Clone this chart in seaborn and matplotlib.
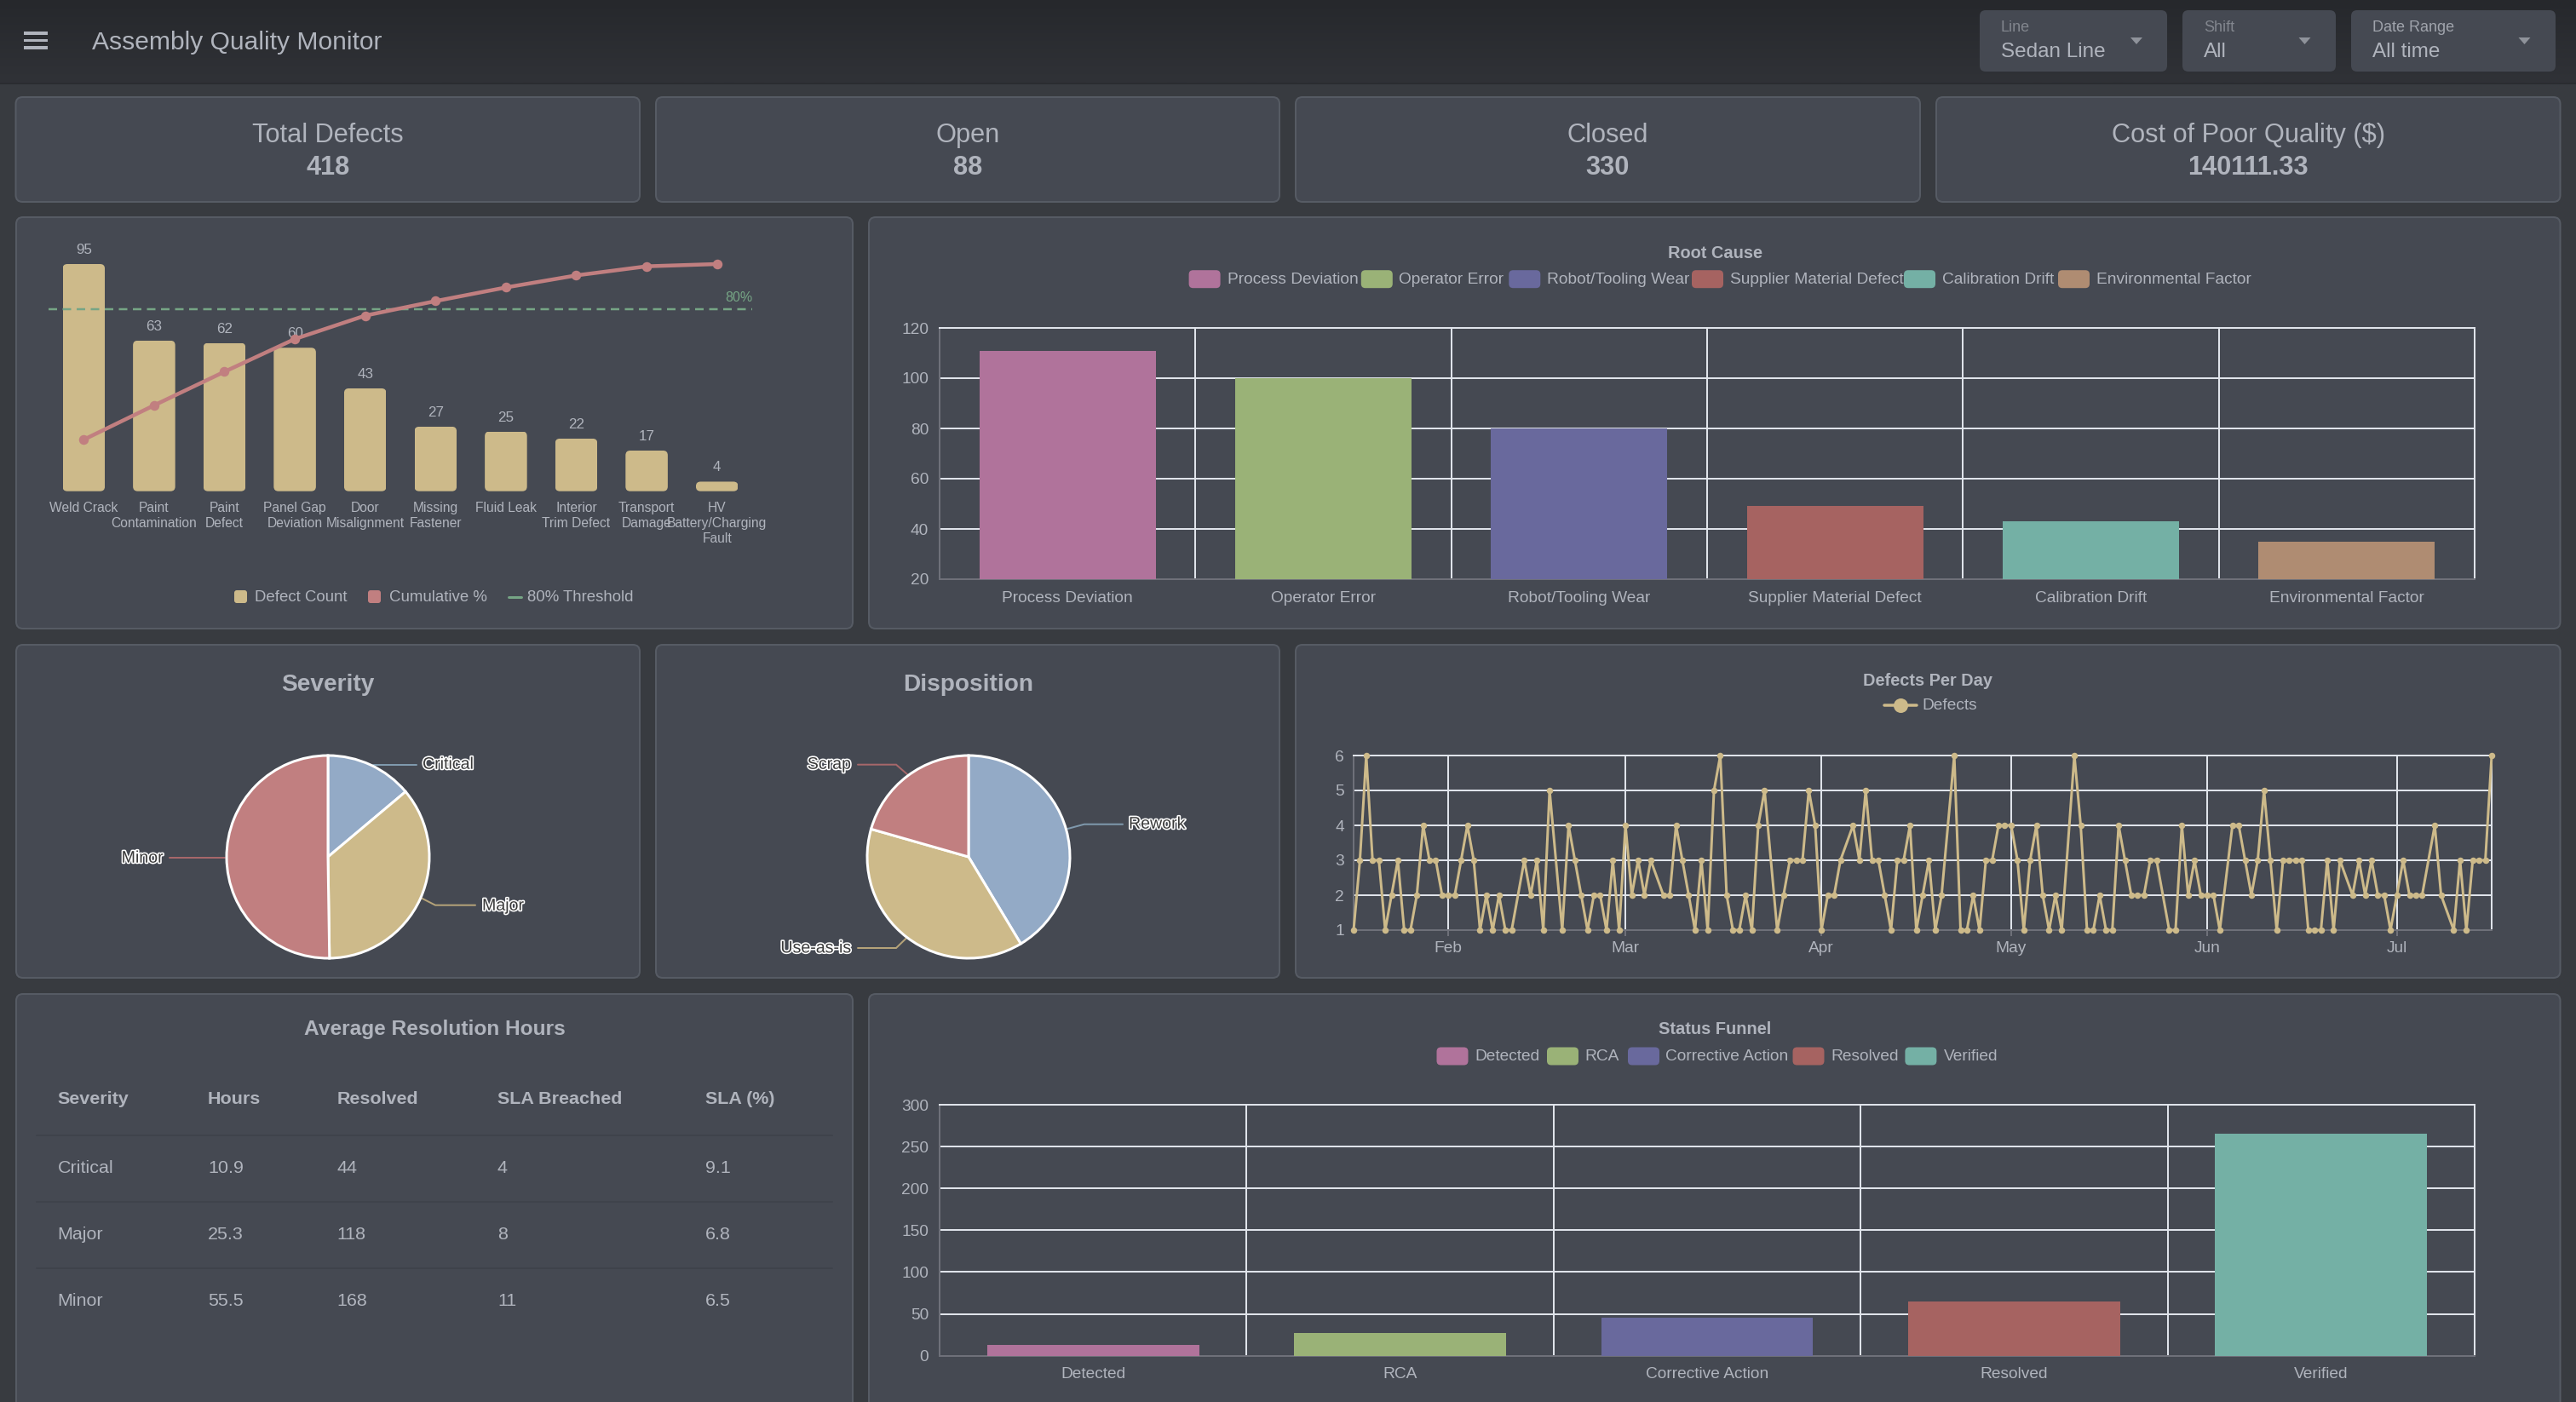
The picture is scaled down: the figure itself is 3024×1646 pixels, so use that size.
import numpy as np
import pandas as pd
import matplotlib
matplotlib.use("Agg")
import matplotlib.pyplot as plt
import matplotlib.dates as mdates
import matplotlib.patheffects as pe
from matplotlib.patches import FancyBboxPatch, Polygon, Rectangle
from matplotlib.transforms import IdentityTransform
import seaborn as sns

# ---------------- data ----------------
kpi_titles = ["Total Defects", "Open", "Closed", "Cost of Poor Quality ($)"]
kpi_values = ["418", "88", "330", "140111.33"]

pareto_cats = ["Weld Crack", "Paint\nContamination", "Paint\nDefect", "Panel Gap\nDeviation",
               "Door\nMisalignment", "Missing\nFastener", "Fluid Leak", "Interior\nTrim Defect",
               "Transport\nDamage", "HV\nBattery/Charging\nFault"]
pareto_counts = [95, 63, 62, 60, 43, 27, 25, 22, 17, 4]
pareto_cum = [22.7, 37.8, 52.6, 67.0, 77.3, 83.7, 89.7, 95.0, 99.0, 100.0]
threshold = 80

root_cats = ["Process Deviation", "Operator Error", "Robot/Tooling Wear",
             "Supplier Material Defect", "Calibration Drift", "Environmental Factor"]
root_vals = [111, 100, 80, 49, 43, 35]

funnel_cats = ["Detected", "RCA", "Corrective Action", "Resolved", "Verified"]
funnel_vals = [13, 27, 45, 65, 265]

severity_labels = ["Critical", "Major", "Minor"]
severity_vals = [58, 150, 210]
disp_labels = ["Rework", "Use-as-is", "Scrap"]
disp_vals = [173, 159, 86]

# one value per day from 17 Jan; None = no defects recorded that day
daily_start = "2025-01-17"
daily_vals = [1, 3, 6, 3, 3, 1, 2, 3, 1, 1, 2, 4, 3, 3, 2, 2, 2, 3, 4, 3,
              1, 2, 1, 2, 1, 1, None, 3, 2, 3, 1, 5, None, 1, 4, 3, 2, 1, 2, 2,
              1, 3, 1, 4, 2, 3, 2, 3, None, 2, 2, 4, 3, 2, 1, 3, 1, 5, 6, 2,
              1, 1, 2, 1, 4, 5, None, 1, 2, 3, 3, 3, 5, 4, 1, 2, 2, 3, None, 4,
              3, 5, 3, 3, 2, 1, 3, 3, 4, 1, 2, 3, 1, 2, None, 6, 1, 1, 2, 1,
              3, 3, 4, 4, 4, 3, 1, 3, 4, 2, 1, 2, 1, None, 6, 4, 1, 1, 2, 1,
              1, 4, 3, 2, 2, 2, 3, 3, None, 1, 1, 4, 2, 3, 2, 2, 2, 1, None, 4,
              4, 3, 2, 3, 5, 3, 1, 3, 3, 3, 3, 1, 1, 1, 3, 1, 3, None, 2, 3,
              2, 3, 2, 2, 1, 2, 3, 2, 2, 2, None, 4, 2, None, 1, 3, 1, 3, 3, 3, 6]

table_cols = ["Severity", "Hours", "Resolved", "SLA Breached", "SLA (%)"]
table_severity = ["Critical", "Major", "Minor"]
table_hours = ["10.9", "25.3", "55.5"]
table_resolved = ["44", "118", "168"]
table_breached = ["4", "8", "11"]
table_sla = ["9.1", "6.8", "6.5"]

filter_labels = ["Line", "Shift", "Date Range"]
filter_values = ["Sedan Line", "All", "All time"]

# ---------------- style ----------------
W, H = 3024, 1646
C_BG, C_PANEL, C_BORDER = "#383b40", "#454952", "#565b64"
C_TEXT, C_GRID, C_AXIS = "#b0b4bd", "#dfe3ea", "#6e7079"
C_TAN, C_RED, C_BLUE, C_GREEN = "#cdba8a", "#c17f80", "#93aac6", "#76a585"
PALETTE = ["#b0739b", "#9ab277", "#69699d", "#a66361", "#74b0a5", "#af8c72"]
PX = 72 / 200  # points per device pixel
TICK_PX = 19.2

sns.set_theme(style="dark")
plt.rcParams["font.family"] = ["Liberation Sans", "DejaVu Sans"]

fig = plt.figure(figsize=(W / 200, H / 200), dpi=200, facecolor=C_BG)
bg = fig.add_axes([0, 0, 1, 1], zorder=0)
bg.set_axis_off()

grad = np.linspace(0, 1, 97)[:, None, None] * (np.array([0x30, 0x32, 0x37]) - np.array([0x26, 0x28, 0x2c])) + np.array([0x26, 0x28, 0x2c])
bg.imshow(grad / 255.0, extent=[0, W, 97, 0], aspect="auto", zorder=0)
bg.set_xlim(0, W)
bg.set_ylim(H, 0)


def rrect(l, t, r, b, fc=C_PANEL, ec=C_BORDER, rad=8, lw=2, z=1):
    bg.add_patch(FancyBboxPatch((l + rad, t + rad), r - l - 2 * rad, b - t - 2 * rad,
                                boxstyle=f"round,pad={rad},rounding_size={rad}",
                                fc=fc, ec=ec, lw=lw * PX, zorder=z))


def T(x, y, s, px=20, ha="center", bold=False, color=C_TEXT, **kw):
    return bg.text(x, y + px * 0.06, s, fontsize=px * PX, ha=ha, va="center",
                   fontweight="bold" if bold else "normal", color=color, zorder=5, **kw)


def axes_px(l, t, r, b):
    ax = fig.add_axes([l / W, 1 - b / H, (r - l) / W, (b - t) / H], zorder=2)
    ax.set_facecolor("none")
    return ax


# ---------------- header ----------------
bg.plot([0, W], [97.5, 97.5], color="#2a2c30", lw=2 * PX, zorder=2)
for yy in (39, 47.5, 56):
    bg.add_patch(Rectangle((28, yy - 1.7), 28, 3.4, fc=C_TEXT, ec="none", zorder=3))
T(108, 48, "Assembly Quality Monitor", 30, ha="left")

fbox = [(2324, 2544, 2508), (2562, 2742, 2705.5), (2760, 3000, 2963.5)]
label_cols = ["#82868e", "#82868e", "#a0a4ac"]
for (l, r, ax_x), lab, val, lc in zip(fbox, filter_labels, filter_values, label_cols):
    rrect(l, 12, r, 84, fc=C_PANEL, ec="none", rad=7, lw=0, z=2)
    T(l + 25, 31, lab, 18, ha="left", color=lc)
    T(l + 25, 60, val, 24.3, ha="left")
    bg.add_patch(Polygon([[ax_x - 7, 44], [ax_x + 7, 44], [ax_x, 52]], fc="#8f939b", ec="none", zorder=4))

# ---------------- KPI cards ----------------
card_x = [(18.5, 751), (770, 1502), (1521, 2254), (2273, 3005.5)]
for (l, r), tt, vv in zip(card_x, kpi_titles, kpi_values):
    rrect(l, 114, r, 237)
    T((l + r) / 2, 157, tt, 30.8)
    T((l + r) / 2, 195, vv, 30.8, bold=True)

# ---------------- panels ----------------
rrect(19, 255, 1001, 738)
rrect(1020, 255, 3005.5, 738)
rrect(19, 757, 751, 1148)
rrect(770, 757, 1502, 1148)
rrect(1521, 757, 3005.5, 1148)
rrect(19, 1167, 1001, 1680)
rrect(1020, 1167, 3005.5, 1680)

# ---------------- pareto ----------------
base, top_95, extra_top = 576.7, 310.0, 270.0
ax = axes_px(57, extra_top, 883, base)
ax2 = ax.twinx()
ax2.set_position(ax.get_position())
ax2.set_zorder(3)
ax2.set_facecolor("none")
scale = (base - extra_top) / (base - top_95)
sns.barplot(x=list(range(len(pareto_counts))), y=pareto_counts, color=C_TAN, saturation=1,
            width=0.6, linewidth=0, edgecolor="none", ax=ax)
ax.set_xlim(-0.5, 9.5)
ax.set_ylim(0, 95 * scale)
ax2.set_ylim(0, 100 * scale)
ax.set_xticks(range(10), pareto_cats, fontsize=15.7 * PX, color=C_TEXT, linespacing=1.27)
ax.tick_params(axis="x", length=0, pad=12 * PX)
ax.set_yticks([])
ax.set_xlabel("")
ax.set_ylabel("")
ax.grid(False)
ax.bar_label(ax.containers[0], fontsize=17 * PX, color=C_TEXT, padding=9 * PX)
for s in ax.spines.values():
    s.set_visible(False)
for s in ax2.spines.values():
    s.set_visible(False)
ax2.set_yticks([])
ax2.grid(False)
fig.canvas.draw()
for bar in ax.patches:
    (x0, y0), (x1, y1) = ax.transData.transform([(bar.get_x(), 0), (bar.get_x() + bar.get_width(), bar.get_height())])
    rad = 5.5
    clip = FancyBboxPatch((x0 + rad, y0 + rad), x1 - x0 - 2 * rad, y1 - y0 - 2 * rad,
                          boxstyle=f"round,pad={rad},rounding_size={rad}", transform=IdentityTransform())
    bar.set_clip_path(clip)
ax2.axhline(threshold, color=C_GREEN, lw=2.5 * PX, ls=(0, (4, 2.6)), zorder=2)
sns.lineplot(x=list(range(10)), y=pareto_cum, color=C_RED, lw=4.5 * PX, marker="o", ms=11.5 * PX,
             mec=C_RED, mew=0, ax=ax2, errorbar=None, zorder=3)
ax2.lines[-1].set_clip_on(False)
ax2.set_xlabel("")
ax2.set_ylabel("")
T(883, 349, "80%", 16, ha="right", color=C_GREEN)

rrect(275, 693, 290, 708, fc=C_TAN, ec="none", rad=3, lw=0, z=4)
T(298.6, 700, "Defect Count", 18.7, ha="left")
rrect(432, 693, 447, 708, fc=C_RED, ec="none", rad=3, lw=0, z=4)
T(457, 700, "Cumulative %", 18.7, ha="left")
bg.plot([596.6, 611.6], [701, 701], color=C_GREEN, lw=3 * PX, zorder=4)
T(619.4, 700, "80% Threshold", 18.7, ha="left")


# ---------------- category bars ----------------
def cat_bars(ax, cats, vals, ylim, yticks, xpad):
    sns.barplot(x=cats, y=vals, hue=cats, palette=PALETTE[:len(cats)], saturation=1,
                width=0.69, dodge=False, legend=False, linewidth=0, edgecolor="none", ax=ax)
    n = len(cats)
    ax.set_xlim(-0.5, n - 0.5)
    ax.set_ylim(*ylim)
    ax.set_yticks(yticks)
    ax.set_xticks(range(n), cats)
    ax.set_xticks(np.arange(0.5, n - 0.5, 1.0), minor=True)
    ax.tick_params(axis="x", which="major", length=0, labelsize=TICK_PX * PX, labelcolor=C_TEXT, pad=xpad * PX)
    ax.tick_params(axis="x", which="minor", length=0)
    ax.tick_params(axis="y", length=0, labelsize=TICK_PX * PX, labelcolor=C_TEXT, pad=13 * PX)
    ax.set_axisbelow(True)
    ax.grid(False)
    ax.grid(axis="y", which="major", color=C_GRID, lw=2 * PX)
    ax.grid(axis="x", which="minor", color=C_GRID, lw=2 * PX)
    ax.set_xlabel("")
    ax.set_ylabel("")
    for k, c in (("top", C_GRID), ("right", C_GRID), ("left", C_AXIS), ("bottom", C_AXIS)):
        ax.spines[k].set_visible(True)
        ax.spines[k].set_color(c)
        ax.spines[k].set_linewidth(2 * PX)
        ax.spines[k].set_zorder(0.9)


def swatch_legend(y, swatches, names, texts):
    for i, (sx, name, tx) in enumerate(zip(swatches, names, texts)):
        rrect(sx, y - 10.5, sx + 37, y + 10.5, fc=PALETTE[i], ec="none", rad=5, lw=0, z=4)
        T(tx, y - 0.5, name, TICK_PX, ha="left")


ax = axes_px(1103, 385, 2905, 680)
cat_bars(ax, root_cats, root_vals, (20, 120), [20, 40, 60, 80, 100, 120], 14)
T(2013, 296, "Root Cause", 20, bold=True)
swatch_legend(327.7, [1395.6, 1597.8, 1771.3, 1986, 2235, 2416], root_cats,
              [1441, 1641.8, 1816, 2030.7, 2279.6, 2461])

ax = axes_px(1103, 1297, 2905, 1591.6)
cat_bars(ax, funnel_cats, funnel_vals, (0, 300), [0, 50, 100, 150, 200, 250, 300], 13)
T(2013, 1207.5, "Status Funnel", 20, bold=True)
swatch_legend(1240, [1686.5, 1816, 1911, 2104.5, 2236.4], funnel_cats,
              [1731, 1860.5, 1955, 2149.6, 2281.5])


# ---------------- pies ----------------
def pie(cx, vals, title):
    cy, r, t, b = 1006, 119, 884, 1122
    ax = axes_px(cx - 124, t, cx + 124, b)
    ax.pie(vals, colors=[C_BLUE, C_TAN, C_RED], startangle=90, counterclock=False, radius=1,
           wedgeprops={"edgecolor": "white", "linewidth": 3 * PX})
    ax.set_aspect("auto")
    ax.set_xlim(-124 / r, 124 / r)
    ax.set_ylim(-(b - cy) / r, (cy - t) / r)
    T(cx, 802.7, title, 28, bold=True)


def pie_label(x, y, s, ha, line, color):
    t = T(x, y - 1, s, 19.6, ha=ha, color="#3a3a3a")
    t.set_path_effects([pe.withStroke(linewidth=3.2 * PX, foreground="white")])
    xs, ys = zip(*line)
    bg.plot(xs, ys, color=color, lw=2 * PX, zorder=4, solid_joinstyle="miter")


L_BLUE, L_TAN, L_RED = "#7f99ad", "#b5a379", "#a6676a"
pie(385, severity_vals, "Severity")
pie_label(496, 897, severity_labels[0], "left", [(438, 897.7), (489, 897.7)], L_BLUE)
pie_label(566, 1063, severity_labels[1], "left", [(494, 1054), (511, 1062.7), (558, 1062.7)], L_TAN)
pie_label(192, 1007, severity_labels[2], "right", [(199, 1007), (264, 1007)], L_RED)
pie(1137, disp_vals, "Disposition")
pie_label(1325, 967, disp_labels[0], "left", [(1253.4, 973), (1272.8, 967.7), (1318, 967.7)], L_BLUE)
pie_label(999.4, 1112.7, disp_labels[1], "right", [(1064.4, 1101), (1052, 1113), (1007, 1113)], L_TAN)
pie_label(999.4, 897, disp_labels[2], "right", [(1065, 909), (1052, 897.7), (1007, 897.7)], L_RED)

# ---------------- daily line ----------------
daily = pd.DataFrame({"date": pd.date_range(daily_start, periods=len(daily_vals), freq="D"),
                      "defects": daily_vals}).dropna()
ax = axes_px(1589, 887, 2925, 1092)
sns.lineplot(data=daily, x="date", y="defects", color=C_TAN, lw=3 * PX, marker="o", ms=7.5 * PX,
             mew=0, mec=C_TAN, errorbar=None, ax=ax, zorder=3)
ax.lines[0].set_clip_on(False)
ax.set_xlim(pd.Timestamp(daily_start), pd.Timestamp(daily_start) + pd.Timedelta(days=len(daily_vals) - 1))
ax.set_ylim(1, 6)
ax.set_yticks(range(1, 7))
ax.xaxis.set_major_locator(mdates.MonthLocator())
ax.xaxis.set_major_formatter(mdates.DateFormatter("%b"))
ax.tick_params(axis="x", length=7 * PX, width=2 * PX, color=C_AXIS, labelsize=TICK_PX * PX,
               labelcolor=C_TEXT, pad=6 * PX, bottom=True)
ax.tick_params(axis="y", length=0, labelsize=TICK_PX * PX, labelcolor=C_TEXT, pad=11 * PX)
ax.set_axisbelow(True)
ax.grid(False)
ax.grid(axis="both", color=C_GRID, lw=2 * PX)
ax.set_xlabel("")
ax.set_ylabel("")
for k, c in (("top", C_GRID), ("right", C_GRID), ("left", C_AXIS), ("bottom", C_AXIS)):
    ax.spines[k].set_visible(True)
    ax.spines[k].set_color(c)
    ax.spines[k].set_linewidth(2 * PX)
T(2263, 798, "Defects Per Day", 20, bold=True)
bg.plot([2211.5, 2250], [828, 828], color=C_TAN, lw=3.5 * PX, zorder=4)
bg.plot([2230.5], [828], "o", color=C_TAN, ms=17 * PX, mew=0, zorder=4)
T(2256, 827.5, "Defects", TICK_PX, ha="left")

# ---------------- table ----------------
T(510, 1207.5, "Average Resolution Hours", 24.5, bold=True)
col_x = [67.7, 244, 395.6, 584, 827.6]
for x, c in zip(col_x, table_cols):
    T(x, 1289.5, c, 21.5, ha="left", bold=True)
columns = [table_severity, table_hours, table_resolved, table_breached, table_sla]
row_y = [1370.5, 1448.5, 1526.5]
for x, col in zip(col_x, columns):
    for y, v in zip(row_y, col):
        T(x, y, v, 21.5, ha="left")
for y in (1333.3, 1411.3, 1489.3):
    bg.plot([43, 977], [y, y], color="#3f434b", lw=2 * PX, zorder=3)

fig.savefig("out.png", dpi=200, facecolor=C_BG)
